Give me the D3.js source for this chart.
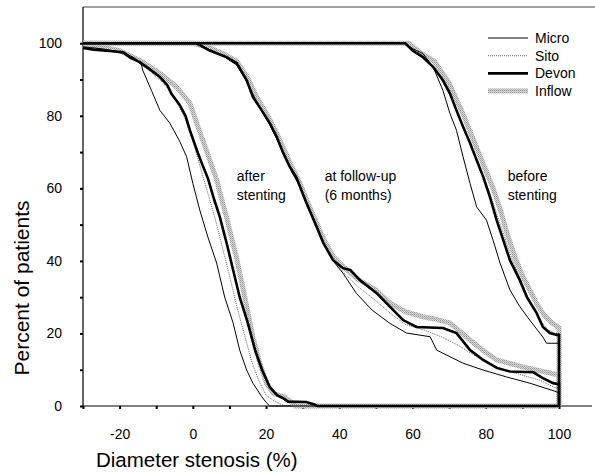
<!DOCTYPE html>
<html><head><meta charset="utf-8">
<script src="https://cdn.jsdelivr.net/npm/d3@7"></script>
<style>body{margin:0;background:#fff}svg{display:block}text{font-family:"Liberation Sans",Arial,Helvetica,sans-serif;fill:#000}</style>
</head><body><div id="chart"></div>
<script>
// ---- data: [diameter stenosis %, percent of patients] ----
const seriesNames = ["Micro", "Sito", "Devon", "Inflow"];
const xTickValues = [-30,-20,-10,0,10,20,30,40,50,60,70,80,90,100];
const xTickLabels = [-20,0,20,40,60,80,100];
const yTickValues = [0,10,20,30,40,50,60,70,80,90,100];
const yTickLabels = [0,20,40,60,80,100];
const annotations = [
  {x: 12, y: 62, lines: ["after", "stenting"]},
  {x: 36, y: 62, lines: ["at follow-up", "(6 months)"]},
  {x: 86, y: 62, lines: ["before", "stenting"]}
];

const afterMicro = [[-30,99],[-25,98.5],[-19,97.5],[-16,96],[-14,94],[-13.7,92.6],[-11.3,87],[-9,81.5],[-6.3,78],[-3.6,73],[-1.7,68.7],[0,61.4],[1.9,54],[4.1,46.6],[6.5,39.4],[8.7,30],[11,22.9],[12.8,15.4],[14.7,9.9],[16.4,6.3],[18.8,2.6],[20,1],[21,0],[100,0]];
const afterSito = [[-30,99],[-25,98.5],[-20,97.5],[-16,95.5],[-12,92.5],[-8,89],[-5,85],[-2,79],[0,73],[2,66],[4,59],[6,52],[8,44],[10,36],[12,27.5],[14,20],[16,12.5],[18,7],[20,3],[22,1.5],[24,0.5],[25,0],[100,0]];
const afterDevon = [[-30,98.7],[-27,98.2],[-22,97.8],[-19,97.5],[-17,96],[-14.5,94.8],[-12,93],[-9,90.7],[-7,88.5],[-5.8,86],[-3.6,83],[-2,80],[-0.8,76],[1.4,69.7],[2.8,66],[4.1,62.8],[5.8,57],[7.4,52],[9.2,45],[11,37.5],[12.8,30],[15,22.9],[17,15.4],[18.9,10],[21,5.2],[23,3],[24.6,2.2],[26,1.2],[31,1.1],[33,0.5],[34,0],[100,0]];
const afterInflow = [[-30,99.5],[-25,99],[-20,98],[-17,96.5],[-14,95],[-9,91.7],[-4.5,88],[-0.8,83.5],[1.4,77],[3.7,70.5],[6.5,62.3],[9.2,52],[11.9,41],[14.2,30],[16.4,19],[18.3,11.8],[20.1,6.3],[22,3.5],[25,2.5],[27,1],[28,0],[100,0]];

const followMicro = [[-30,100],[1,100],[4,98.5],[9,96],[12,94],[14.7,89.5],[17,84.5],[19,81],[21,77.5],[23,73.5],[25,69],[27,64.5],[29,61],[31,56],[34,49],[36,44.5],[38.3,40],[41,36.6],[44.7,31],[49,26.4],[53.8,22.8],[58.4,20.1],[64.8,19.1],[66.6,15.4],[70.2,13.6],[73.8,11.8],[79.3,9.9],[85.7,8],[92,6.3],[99.4,3.9],[100,3.5],[100,0]];
const followSito = [[-30,100],[1,100],[5,98],[9,96],[12,94],[15,89],[17,85],[19,81],[21,77.5],[23,73.5],[25,69],[27,65],[29,61],[31,56],[34,49],[36,44.5],[38.5,40],[41,37],[45,33],[50,29],[54,25.5],[58,22.5],[63,21],[68,19],[72,17],[76,14.5],[80,12],[85,10],[90,8.5],[95,7],[99,5],[100,5],[100,0]];
const followDevon = [[-30,100],[1,100],[4.6,98],[9.2,96.2],[12,94.5],[14.7,89.8],[16.4,85.2],[18.8,81.5],[21,78],[22.9,74.2],[24.7,69.7],[26.5,65.9],[28.3,63],[31,56],[33.8,49.4],[35.6,45],[38.3,40.2],[41,38],[43,37.5],[45.6,34.7],[50.2,31.1],[53.8,27.4],[57.4,23.7],[61.1,21.8],[68.3,21.5],[72,20.1],[75.7,15.4],[79.3,12.7],[83,10.5],[86.6,9.5],[93,9.3],[95.6,7.7],[98.4,6.3],[100,6],[100,0]];
const followInflow = [[-30,100],[0,100],[4,99],[9,96.8],[12,95],[15,90.5],[17,86],[19,82.5],[21,79],[23,75],[25,70.5],[27,66],[29,62],[31,57],[34,50],[36,45.5],[38.5,41],[41,38.5],[45,35],[50,32],[53.8,28.4],[58,26],[62.8,24.6],[66,24],[70.2,22.9],[75.7,18.2],[79,15.5],[83,12.7],[90,10.8],[97.5,9.1],[100,8.5],[100,0]];

const beforeMicro = [[-30,100],[58,100],[60,98.5],[62.8,97.2],[65.6,93.5],[68.3,87],[70.2,80.7],[72,76],[73.8,68.7],[75.7,61.4],[77.5,54.9],[80.2,51.2],[82,45.7],[83.9,39.4],[86.6,32],[89.3,27.4],[92,23.7],[95.6,19],[96.6,17.3],[100,17.3],[100,0]];
const beforeSito = [[-30,100],[58,100],[61,98],[64,95.5],[67,91.5],[69,88],[71,84],[73,79],[75,74],[77,69],[79,64],[81,59],[83,53],[85,47],[87,41],[89,36],[91,31],[93,27],[95,23.5],[97,21],[99,20],[100,20],[100,0]];
const beforeDevon = [[-30,100],[58,100],[60,98],[62.8,96.2],[65.6,93.5],[68.3,89.8],[70.2,86.2],[72,81.5],[73.8,77],[75.7,72.5],[77.5,67.8],[79.3,63.2],[81.1,57.7],[83,51.2],[84.8,45.7],[86.6,40.2],[89.3,34.7],[91.2,30.1],[93.9,25.6],[95.6,21.8],[97.5,20.1],[99.4,19.6],[100,19.6],[100,0]];
const beforeInflow = [[-30,100],[59,100],[62,97.5],[66,95],[68,92],[70,89],[72,84.5],[74,80],[76,75],[78,70],[80,65],[82,60],[84,54],[86,47],[88,41],[90,36],[92,32],[94,28],[96,25],[98,23],[100,21.5],[100,0]];

const groups = [
  {Micro: afterMicro, Sito: afterSito, Devon: afterDevon, Inflow: afterInflow},
  {Micro: followMicro, Sito: followSito, Devon: followDevon, Inflow: followInflow},
  {Micro: beforeMicro, Sito: beforeSito, Devon: beforeDevon, Inflow: beforeInflow}
];

// ---- layout ----
const W = 595, H = 473;
const x = d3.scaleLinear().domain([-30, 100]).range([83, 559]);
const y = d3.scaleLinear().domain([0, 110]).range([406, 7]);

const svg = d3.select("#chart").append("svg").attr("width", W).attr("height", H);
const defs = svg.append("defs");
const pat = defs.append("pattern").attr("id", "inflowPat").attr("patternUnits", "userSpaceOnUse")
  .attr("width", 2).attr("height", 2);
pat.append("rect").attr("width", 2).attr("height", 2).attr("fill", "#d6d6d6");
pat.append("rect").attr("width", 1).attr("height", 1).attr("fill", "#9a9a9a");
pat.append("rect").attr("x", 1).attr("y", 1).attr("width", 1).attr("height", 1).attr("fill", "#b0b0b0");

const styles = {
  Inflow: {stroke: "url(#inflowPat)", width: 5, dash: null},
  Sito: {stroke: "#666", width: 1, dash: "1,1"},
  Micro: {stroke: "#000", width: 1, dash: null},
  Devon: {stroke: "#000", width: 2.6, dash: null}
};
const drawOrder = ["Inflow", "Sito", "Micro", "Devon"];

// ---- axes ----
svg.append("line").attr("x1", x(-30)).attr("x2", W).attr("y1", y(110)).attr("y2", y(110))
  .attr("stroke", "#444").attr("stroke-width", 1);
svg.append("line").attr("x1", x(-30)).attr("x2", x(-30)).attr("y1", y(110)).attr("y2", y(0))
  .attr("stroke", "#000").attr("stroke-width", 1.2);
svg.append("line").attr("x1", x(-30)).attr("x2", 592).attr("y1", y(0)).attr("y2", y(0))
  .attr("stroke", "#000").attr("stroke-width", 1.2);

const xAxis = d3.axisBottom(x).tickValues(xTickValues).tickSize(3).tickPadding(20)
  .tickFormat(d => xTickLabels.includes(d) ? String(d) : "");
const gx = svg.append("g").attr("transform", `translate(0,${y(0)})`).call(xAxis);
gx.select(".domain").remove();
gx.selectAll(".tick line").attr("stroke-width", 2);
gx.selectAll("text").attr("font-size", 14).style("font-family", '"Liberation Sans",Arial,sans-serif');

const yAxis = d3.axisLeft(y).tickValues(yTickValues).tickSize(3).tickPadding(18)
  .tickFormat(d => yTickLabels.includes(d) ? String(d) : "");
const gy = svg.append("g").attr("transform", `translate(${x(-30)},0)`).call(yAxis);
gy.select(".domain").remove();
gy.selectAll(".tick line").attr("stroke-width", 2);
gy.selectAll("text").attr("font-size", 14).style("font-family", '"Liberation Sans",Arial,sans-serif');

// ---- curves ----
const line = d3.line().x(d => x(d[0])).y(d => y(d[1])).curve(d3.curveLinear);
const plot = svg.append("g");
drawOrder.forEach(name => {
  groups.forEach(g => {
    const s = styles[name];
    plot.append("path").datum(g[name]).attr("d", line).attr("fill", "none")
      .attr("stroke", s.stroke).attr("stroke-width", s.width)
      .attr("stroke-dasharray", s.dash).attr("stroke-linejoin", "miter");
  });
});

// ---- annotations ----
annotations.forEach(a => {
  const t = svg.append("text").attr("x", x(a.x)).attr("y", y(a.y)).attr("font-size", 14);
  a.lines.forEach((l, i) => t.append("tspan").attr("x", x(a.x)).attr("dy", i ? 19 : 0).text(l));
});

// ---- legend ----
const leg = svg.append("g");
seriesNames.forEach((name, i) => {
  const ly = 38 + i * 17.7;
  const s = styles[name];
  leg.append("line").attr("x1", 488).attr("x2", 528).attr("y1", ly).attr("y2", ly)
    .attr("stroke", s.stroke).attr("stroke-width", name === "Inflow" ? 5 : s.width)
    .attr("stroke-dasharray", s.dash);
  leg.append("text").attr("x", 535).attr("y", ly + 5).attr("font-size", 14).text(name);
});

// ---- axis titles ----
svg.append("text").attr("x", 96).attr("y", 467).attr("font-size", 20.5).text("Diameter stenosis (%)");
svg.append("text").attr("transform", "translate(29,288) rotate(-90)").attr("text-anchor", "middle")
  .attr("font-size", 21).text("Percent of patients");
</script></body></html>
